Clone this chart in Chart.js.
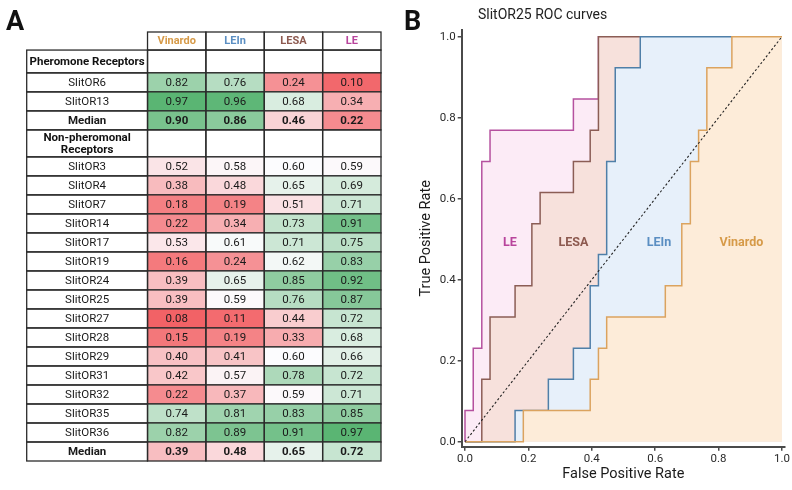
<!DOCTYPE html>
<html>
<head>
<meta charset="utf-8">
<script src="https://cdn.jsdelivr.net/npm/chart.js@4.4.1/dist/chart.umd.min.js"></script>
<style>
  html, body { margin: 0; padding: 0; background: #fff; }
  #wrap { position: relative; width: 792px; height: 490px; overflow: hidden; font-family: Roboto, sans-serif; }
  #boxA { position: absolute; left: 0; top: 0; width: 400px; height: 490px; }
  #boxB { position: absolute; left: 400px; top: 0; width: 392px; height: 490px; }
  .letter { position: absolute; font: 700 27px Roboto, Arial, sans-serif; line-height: 1; color: #111; }
  #titleB { position: absolute; left: 478px; top: 6px; font: 400 14px Roboto, sans-serif; line-height: 1.2; color: #222; }
</style>
</head>
<body>
<div id="wrap">
  <div id="boxA"><canvas id="chart-table"></canvas></div>
  <div id="boxB"><canvas id="chart-roc"></canvas></div>
  <div class="letter" style="left:6px;top:8px">A</div>
  <div class="letter" style="left:404px;top:8px">B</div>
  <div id="titleB">SlitOR25 ROC curves</div>
</div>
<script>
// Panel A: AUC table (heat-coloured), panel B: SlitOR25 ROC curves.

const methods = ["Vinardo", "LEIn", "LESA", "LE"];

const pheroRows = ["SlitOR6", "SlitOR13"];
const pheroValues = [
  [0.82, 0.76, 0.24, 0.10],
  [0.97, 0.96, 0.68, 0.34],
];
const pheroMedian = [0.90, 0.86, 0.46, 0.22];

const nonPheroRows = ["SlitOR3", "SlitOR4", "SlitOR7", "SlitOR14", "SlitOR17", "SlitOR19", "SlitOR24",
  "SlitOR25", "SlitOR27", "SlitOR28", "SlitOR29", "SlitOR31", "SlitOR32", "SlitOR35", "SlitOR36"];
const nonPheroValues = [
  [0.52, 0.58, 0.60, 0.59],
  [0.38, 0.48, 0.65, 0.69],
  [0.18, 0.19, 0.51, 0.71],
  [0.22, 0.34, 0.73, 0.91],
  [0.53, 0.61, 0.71, 0.75],
  [0.16, 0.24, 0.62, 0.83],
  [0.39, 0.65, 0.85, 0.92],
  [0.39, 0.59, 0.76, 0.87],
  [0.08, 0.11, 0.44, 0.72],
  [0.15, 0.19, 0.33, 0.68],
  [0.40, 0.41, 0.60, 0.66],
  [0.42, 0.57, 0.78, 0.72],
  [0.22, 0.37, 0.59, 0.71],
  [0.74, 0.81, 0.83, 0.85],
  [0.82, 0.89, 0.91, 0.97],
];
const nonPheroMedian = [0.39, 0.48, 0.65, 0.72];

// ROC points (FPR, TPR) for SlitOR25
const fprLE = [0, 0, 0.026, 0.053, 0.079, 0.342, 0.421, 1];
const tprLE = [0, 0.077, 0.231, 0.692, 0.769, 0.846, 1, 1];
const fprLESA = [0, 0.053, 0.079, 0.158, 0.211, 0.237, 0.342, 0.395, 0.421, 1];
const tprLESA = [0, 0.154, 0.308, 0.385, 0.538, 0.615, 0.692, 0.769, 1, 1];
const fprLEIn = [0, 0.158, 0.263, 0.342, 0.395, 0.421, 0.447, 0.474, 0.553, 1];
const tprLEIn = [0, 0.077, 0.154, 0.231, 0.385, 0.462, 0.692, 0.923, 1, 1];
const fprVinardo = [0, 0.184, 0.395, 0.421, 0.447, 0.632, 0.684, 0.711, 0.737, 0.763, 0.842, 1];
const tprVinardo = [0, 0.077, 0.154, 0.231, 0.308, 0.385, 0.538, 0.692, 0.769, 0.923, 1, 1];
const rocTicks = [0, 0.2, 0.4, 0.6, 0.8, 1.0];

// ---- styles ----
const METHOD_COLORS = { Vinardo: "#d69a48", LEIn: "#5a8ec2", LESA: "#8d5a50", LE: "#b8449c" };
const LINE_COLORS = { Vinardo: "#dba35f", LEIn: "#4f7fa8", LESA: "#8b5d55", LE: "#b5519f" };
const FILL_COLORS = { Vinardo: "#fdecd9", LEIn: "#e7f0fa", LESA: "#f7e1dc", LE: "#fcebf6" };
const LABEL_POS = { LE: 0.142, LESA: 0.342, LEIn: 0.612, Vinardo: 0.872 };
const LABEL_Y = 0.49;

const LABEL_COL_W = 2.07;   // label column width, in data-column units
const COLOR_MID = 0.60;
const BORDER = "#2b2b2b";

function buildRows() {
  const rows = [{ type: "head", h: 0.95 }];
  rows.push({ type: "section", label: ["Pheromone Receptors"], h: 1.2 });
  pheroRows.forEach((n, i) => rows.push({ type: "data", label: n, values: pheroValues[i], h: 1 }));
  rows.push({ type: "data", label: "Median", values: pheroMedian, bold: true, h: 1 });
  rows.push({ type: "section", label: ["Non-pheromonal", "Receptors"], h: 1.42 });
  nonPheroRows.forEach((n, i) => rows.push({ type: "data", label: n, values: nonPheroValues[i], h: 1 }));
  rows.push({ type: "data", label: "Median", values: nonPheroMedian, bold: true, h: 1 });
  return rows;
}
const tableRows = buildRows();
const totalRowUnits = tableRows.reduce((s, r) => s + r.h, 0);

const allVals = [].concat(...pheroValues, pheroMedian, ...nonPheroValues, nonPheroMedian);
const vMin = Math.min(...allVals), vMax = Math.max(...allVals);

function mix(a, b, t) {
  t = Math.max(0, Math.min(1, t));
  return `rgb(${a.map((c, i) => Math.round(c + (b[i] - c) * t)).join(",")})`;
}
function heatColor(v) {
  const lo = [242, 98, 102], mid = [252, 252, 254], hi = [90, 181, 115];
  if (v <= COLOR_MID) return mix(lo, mid, (v - vMin) / (COLOR_MID - vMin));
  return mix(mid, hi, (v - COLOR_MID) / (vMax - COLOR_MID));
}

const tablePlugin = {
  id: "heatTable",
  afterDraw(chart) {
    const { ctx } = chart;
    const xs = chart.scales.x, ys = chart.scales.y;
    const edge = (j) => xs.getPixelForValue(j === 0 ? 0 : LABEL_COL_W + (j - 1));
    ctx.save();
    ctx.textAlign = "center";
    ctx.textBaseline = "middle";
    let r0 = 0;
    for (const row of tableRows) {
      const top = ys.getPixelForValue(r0), bot = ys.getPixelForValue(r0 + row.h);
      const cy = (top + bot) / 2;
      if (row.type === "data") {
        row.values.forEach((v, j) => {
          ctx.fillStyle = heatColor(v);
          ctx.fillRect(edge(j + 1), top, edge(j + 2) - edge(j + 1), bot - top);
        });
      }
      ctx.strokeStyle = BORDER;
      ctx.lineWidth = 1.3;
      const first = row.type === "head" ? 1 : 0;
      for (let j = first; j <= 4; j++) {
        ctx.strokeRect(edge(j), top, edge(j + 1) - edge(j), bot - top);
      }
      const lx = (edge(0) + edge(1)) / 2;
      if (row.type === "head") {
        ctx.font = "bold 11px Roboto";
        methods.forEach((m, j) => {
          ctx.fillStyle = METHOD_COLORS[m];
          ctx.fillText(m, (edge(j + 1) + edge(j + 2)) / 2, cy + 0.5);
        });
      } else if (row.type === "section") {
        ctx.font = "bold 11.5px Roboto";
        ctx.fillStyle = "#111";
        const n = row.label.length;
        row.label.forEach((t, k) => ctx.fillText(t, lx, cy + (k - (n - 1) / 2) * 12.5 + 0.5));
      } else {
        ctx.font = (row.bold ? "bold " : "") + "11.5px Roboto";
        ctx.fillStyle = "#1a1a1a";
        ctx.fillText(row.label, lx, cy + 0.5);
        row.values.forEach((v, j) => {
          ctx.fillText(v.toFixed(2), (edge(j + 1) + edge(j + 2)) / 2, cy + 0.5);
        });
      }
      r0 += row.h;
    }
    ctx.restore();
  },
};

new Chart(document.getElementById("chart-table"), {
  type: "scatter",
  data: { datasets: [] },
  options: {
    animation: false,
    responsive: true,
    maintainAspectRatio: false,
    layout: { padding: { left: 26.7, right: 19, top: 32, bottom: 29 } },
    plugins: { legend: { display: false }, tooltip: { enabled: false } },
    scales: {
      x: { type: "linear", display: false, min: 0, max: LABEL_COL_W + methods.length },
      y: { type: "linear", display: false, reverse: true, min: 0, max: totalRowUnits },
    },
  },
  plugins: [tablePlugin],
});

// ---- panel B ----
function pts(xs, ys) { return xs.map((x, i) => ({ x, y: ys[i] })); }

const rocSeries = [
  { name: "Vinardo", data: pts(fprVinardo, tprVinardo), order: 1 },
  { name: "LEIn", data: pts(fprLEIn, tprLEIn), order: 2 },
  { name: "LESA", data: pts(fprLESA, tprLESA), order: 3 },
  { name: "LE", data: pts(fprLE, tprLE), order: 4 },
];

const rocDatasets = rocSeries.map((s) => ({
  label: s.name,
  data: s.data,
  order: s.order,
  showLine: true,
  stepped: true,
  borderColor: LINE_COLORS[s.name],
  backgroundColor: FILL_COLORS[s.name],
  borderWidth: 1.5,
  pointRadius: 0,
  fill: "origin",
}));
rocDatasets.push({
  label: "chance",
  data: pts([0, 1], [0, 1]),
  order: 0,
  showLine: true,
  borderColor: "#222",
  borderWidth: 1.1,
  borderDash: [2.2, 2.2],
  pointRadius: 0,
  fill: false,
});

const rocLabels = {
  id: "rocLabels",
  afterDatasetsDraw(chart) {
    const { ctx } = chart;
    const xs = chart.scales.x, ys = chart.scales.y;
    ctx.save();
    ctx.font = "bold 12.5px Roboto";
    ctx.textAlign = "center";
    ctx.textBaseline = "middle";
    for (const m of methods) {
      ctx.fillStyle = METHOD_COLORS[m];
      ctx.fillText(m, xs.getPixelForValue(LABEL_POS[m]), ys.getPixelForValue(LABEL_Y));
    }
    ctx.restore();
  },
};

const axisCommon = {
  type: "linear",
  afterBuildTicks: (s) => { s.ticks = rocTicks.map((v) => ({ value: v })); },
  grid: { display: true, drawOnChartArea: false, drawTicks: true, tickLength: 4, color: "#4a4a4a", lineWidth: 1.5 },
  border: { display: true, color: "#4a4a4a", width: 2 },
  ticks: { color: "#2a2a2a", font: { family: "Roboto", size: 11.5 }, padding: 2, maxRotation: 0, callback: (v) => v.toFixed(1) },
};

new Chart(document.getElementById("chart-roc"), {
  type: "scatter",
  data: { datasets: rocDatasets },
  options: {
    animation: false,
    responsive: true,
    maintainAspectRatio: false,
    layout: { padding: { left: 0, right: 7, top: 30, bottom: 0 } },
    plugins: { legend: { display: false }, tooltip: { enabled: false } },
    scales: {
      x: {
        ...axisCommon,
        min: -0.0104,
        max: 1.0095,
        afterFit: (s) => { s.height = 43.3; },
        title: { display: true, text: "False Positive Rate", color: "#1a1a1a", font: { family: "Roboto", size: 14.5 }, padding: { top: 0, bottom: 7 } },
      },
      y: {
        ...axisCommon,
        min: -0.0123,
        max: 1.0165,
        afterFit: (s) => { s.width = 61.7; },
        title: { display: true, text: "True Positive Rate", color: "#1a1a1a", font: { family: "Roboto", size: 14.5 }, padding: { top: 18, bottom: 0 } },
      },
    },
  },
  plugins: [rocLabels],
});
</script>
</body>
</html>
